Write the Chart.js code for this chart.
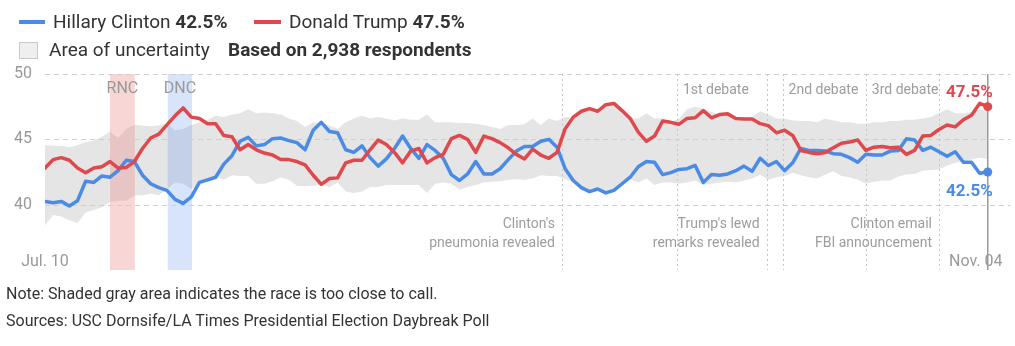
<!DOCTYPE html>
<html>
<head>
<meta charset="utf-8">
<script src="https://cdn.jsdelivr.net/npm/chart.js@4/dist/chart.umd.min.js"></script>
<style>
  html, body { margin: 0; padding: 0; background: #fff; }
  body { width: 1015px; height: 346px; position: relative; overflow: hidden;
         font-family: Roboto, "Noto Sans", sans-serif; color: #333; }
  #wrap { position: absolute; left: 0; top: 0; width: 1015px; height: 346px; }
  .key { position: absolute; font-size: 19px; line-height: 19px; white-space: nowrap; }
  .key b { font-weight: 700; }
  .swatch { position: absolute; height: 4px; }
  .box { position: absolute; width: 17px; height: 15px; background: #efefef; border: 1px solid #c9c9c9; }
  .note { position: absolute; left: 6px; font-size: 16px; line-height: 16px; white-space: nowrap; }
</style>
</head>
<body>
<div id="wrap"><canvas id="poll" width="1015" height="346"></canvas></div>

<div class="swatch" style="left:19px;top:20px;width:26px;background:#4a8be6"></div>
<div class="key" style="left:53px;top:12px">Hillary Clinton <b id="clintonLast"></b></div>
<div class="swatch" style="left:254px;top:20px;width:27px;background:#df484c"></div>
<div class="key" style="left:289px;top:12px">Donald Trump <b id="trumpLast"></b></div>
<div class="box" style="left:19px;top:42px"></div>
<div class="key" style="left:49px;top:40px">Area of uncertainty</div>
<div class="key" style="left:228px;top:40px"><b>Based on 2,938 respondents</b></div>

<div class="note" style="top:286px">Note: Shaded gray area indicates the race is too close to call.</div>
<div class="note" style="top:313px">Sources: USC Dornsife/LA Times Presidential Election Daybreak Poll</div>

<script>
// Daily tracking values, one per day starting Jul. 10
const clinton = [
  40.25,40.15,40.25,39.9,40.3,41.8,41.7,42.2,42.1,42.6,
  43.4,43.3,42.25,41.6,41.3,41.1,40.4,40.1,40.6,41.7,
  41.9,42.1,43.1,43.75,44.85,45.15,44.5,44.6,45.05,45.1,
  44.9,44.75,44.2,45.7,46.3,45.6,45.5,44.2,44.0,44.5,
  43.6,42.95,43.5,44.3,45.25,44.3,43.55,44.6,44.15,43.55,
  42.3,41.85,42.35,43.3,42.35,42.35,42.75,43.45,44.1,44.45,
  44.45,44.85,45.0,44.4,42.75,41.85,41.3,41.0,41.2,40.9,
  41.1,41.6,42.1,42.9,43.3,43.25,42.3,42.45,42.7,42.75,
  43.0,41.7,42.3,42.25,42.35,42.6,42.95,42.55,43.55,43.0,
  43.3,42.6,43.2,44.3,44.15,44.15,44.1,43.9,43.85,43.6,
  43.25,43.85,43.8,43.8,44.1,44.15,45.05,44.95,44.15,44.4,
  44.05,43.7,44.05,43.25,43.25,42.4,42.5
];
const trump = [
  42.8,43.45,43.6,43.4,42.8,42.45,42.8,42.9,43.3,42.8,
  42.85,43.3,44.3,45.1,45.4,46.1,46.8,47.4,46.7,46.6,
  46.2,46.2,45.3,45.2,44.2,44.6,44.2,43.95,43.8,43.45,
  43.45,43.3,43.05,42.25,41.55,42.0,42.05,43.2,43.4,43.4,
  44.2,44.95,44.6,44.0,43.2,44.1,44.3,43.2,43.6,43.85,
  45.05,45.3,45.0,44.0,45.25,45.05,44.75,44.35,43.85,43.5,
  44.25,43.8,43.55,44.0,45.8,46.7,47.15,47.35,47.15,47.65,
  47.75,47.2,46.6,45.55,44.85,45.25,46.4,46.3,46.15,46.6,
  46.65,47.2,46.65,46.9,46.95,46.6,46.55,46.55,46.2,46.05,
  45.5,45.7,45.3,44.15,44.0,43.9,44.0,44.35,44.7,44.8,
  44.95,44.15,44.4,44.45,44.35,44.4,43.85,44.15,45.25,45.3,
  45.75,46.1,45.95,46.5,46.85,47.75,47.5
];
// Upper and lower edges of the area of uncertainty
const bandHigh = [
  44.55,44.5,44.5,44.4,44.55,44.8,44.9,45.2,45.6,45.1,
  45.8,46.1,46.05,46.0,46.05,46.2,45.7,45.8,46.1,46.3,
  46.5,46.8,46.7,46.9,47.0,47.3,47.0,47.05,47.0,46.9,
  46.6,46.4,45.95,46.3,46.2,46.05,45.8,46.3,46.6,46.8,
  46.6,46.7,46.6,46.45,46.6,46.5,46.5,46.9,46.3,46.3,
  46.3,46.25,46.25,46.2,46.1,45.95,45.8,46.1,46.1,46.15,
  46.6,46.1,46.6,46.4,46.7,46.65,47.1,47.3,47.1,47.6,
  47.7,47.15,46.6,46.6,47.0,46.6,46.6,46.3,46.6,47.3,
  47.5,47.35,47.1,46.9,46.95,46.65,46.65,46.7,47.15,46.9,
  46.6,46.6,46.45,46.4,46.4,46.3,46.6,46.45,46.3,46.3,
  46.2,46.2,46.3,46.3,46.4,46.4,46.5,46.5,46.6,46.7,
  47.0,47.3,47.0,47.0,47.1,47.3,47.2
];
const bandLow = [
  38.4,39.2,39.1,38.8,38.6,39.4,39.6,39.8,40.2,40.3,
  40.3,40.7,40.7,40.85,40.7,41.2,41.7,41.6,41.2,41.5,
  42.0,42.2,41.9,42.25,42.2,42.2,41.6,41.6,41.8,42.1,
  41.9,41.45,41.4,41.45,41.5,41.35,41.7,41.0,40.9,41.0,
  41.35,41.35,41.5,41.5,41.5,41.5,41.5,40.9,41.6,41.7,
  41.6,41.15,41.35,41.5,41.7,41.75,41.8,41.9,41.95,41.9,
  42.0,42.25,42.2,42.2,41.95,41.7,41.3,41.0,41.2,40.9,
  41.1,41.4,41.95,41.7,42.0,41.5,41.7,41.7,41.6,41.7,
  41.85,41.5,41.6,41.7,41.75,41.7,41.85,42.0,42.3,41.9,
  42.1,42.2,42.45,42.25,42.1,42.0,42.3,42.55,42.2,42.1,
  41.9,41.6,41.75,41.85,41.85,42.15,42.3,42.35,42.6,42.65,
  42.7,43.0,43.2,43.35,43.45,43.6,43.5
];

const yTicks = [40, 45, 50];
const firstDayLabel = 'Jul. 10';
const lastDayLabel = 'Nov. 04';

// Party conventions (days since Jul. 10)
const conventionNames = ['RNC', 'DNC'];
const conventionStart = [8, 15.1];
const conventionEnd = [11.05, 18.1];

// Campaign events (days since Jul. 10)
const eventDays = [63.6, 77.75, 88.8, 90.75, 101, 110];
const eventLabels = [
  ["Clinton's", 'pneumonia revealed'],
  ['1st debate'],
  ["Trump's lewd", 'remarks revealed'],
  ['2nd debate'],
  ['3rd debate'],
  ['Clinton email', 'FBI announcement']
];

const BLUE = '#4a8be6';
const RED = '#df484c';
const FONT = 'Roboto, "Noto Sans", sans-serif';
const last = clinton.length - 1;
const pct = v => v.toFixed(1) + '%';

document.getElementById('clintonLast').textContent = pct(clinton[last]);
document.getElementById('trumpLast').textContent = pct(trump[last]);

const toXY = arr => arr.map((v, i) => ({ x: i, y: v }));

const overlay = {
  id: 'overlay',
  afterDatasetDraw(chart, args) {
    if (args.index !== 3) return;
    const { ctx, chartArea: a, scales: { x, y } } = chart;
    ctx.save();
    // convention bands
    conventionStart.forEach((s, i) => {
      const x0 = x.getPixelForValue(s), x1 = x.getPixelForValue(conventionEnd[i]);
      ctx.fillStyle = i === 0 ? 'rgba(236,140,140,0.36)' : 'rgba(100,150,230,0.26)';
      ctx.fillRect(x0, a.top, x1 - x0, a.bottom - a.top);
    });
    // horizontal guides
    ctx.strokeStyle = '#cfcfcf';
    ctx.lineWidth = 1;
    ctx.setLineDash([5, 4]);
    yTicks.forEach(t => {
      const py = Math.round(y.getPixelForValue(t)) + 0.5;
      ctx.beginPath(); ctx.moveTo(a.left, py); ctx.lineTo(a.right, py); ctx.stroke();
    });
    // event markers
    ctx.strokeStyle = '#c6c6c6';
    ctx.setLineDash([2, 3]);
    eventDays.forEach(d => {
      const px = Math.round(x.getPixelForValue(d)) + 0.5;
      ctx.beginPath(); ctx.moveTo(px, a.top); ctx.lineTo(px, a.bottom); ctx.stroke();
    });
    // latest day marker
    ctx.setLineDash([]);
    ctx.strokeStyle = '#9a9a9a';
    ctx.lineWidth = 1.5;
    const ex = x.getPixelForValue(last);
    ctx.beginPath(); ctx.moveTo(ex, a.top); ctx.lineTo(ex, a.bottom); ctx.stroke();
    ctx.restore();
  },
  afterDatasetsDraw(chart) {
    const { ctx, chartArea: a, scales: { x, y } } = chart;
    ctx.save();
    ctx.textBaseline = 'alphabetic';
    // convention names
    ctx.font = '16px ' + FONT;
    ctx.fillStyle = '#999';
    ctx.textAlign = 'center';
    conventionNames.forEach((n, i) => {
      const cx = (x.getPixelForValue(conventionStart[i]) + x.getPixelForValue(conventionEnd[i])) / 2;
      ctx.fillText(n, cx, a.top + 19);
    });
    // event labels
    ctx.font = '14px ' + FONT;
    ctx.fillStyle = '#9d9d9d';
    eventDays.forEach((d, i) => {
      const px = x.getPixelForValue(d);
      const lines = eventLabels[i];
      if (lines.length === 1) {
        ctx.textAlign = 'left';
        ctx.fillText(lines[0], px + 6, a.top + 20);
      } else {
        ctx.textAlign = 'right';
        ctx.fillText(lines[0], px - 7, a.bottom - 42);
        ctx.fillText(lines[1], px - 7, a.bottom - 23);
      }
    });
    // first and last day
    ctx.font = '16px ' + FONT;
    ctx.fillStyle = '#999';
    ctx.textAlign = 'center';
    ctx.fillText(firstDayLabel, x.getPixelForValue(0), a.bottom - 4);
    ctx.fillText(lastDayLabel, x.getPixelForValue(last) - 12, a.bottom - 4);
    // latest values
    const lx = x.getPixelForValue(last) + 5;
    ctx.font = 'bold 17px ' + FONT;
    ctx.textAlign = 'right';
    ctx.fillStyle = RED;
    ctx.fillText(pct(trump[last]), lx, y.getPixelForValue(trump[last]) - 10);
    ctx.fillStyle = BLUE;
    ctx.fillText(pct(clinton[last]), lx, y.getPixelForValue(clinton[last]) + 24);
    ctx.restore();
  }
};

const endDot = ctx => (ctx.dataIndex === last ? 4.5 : 0);

new Chart(document.getElementById('poll'), {
  type: 'line',
  data: {
    datasets: [
      { label: 'Donald Trump', data: toXY(trump), borderColor: RED, backgroundColor: RED,
        borderWidth: 3.5, pointRadius: endDot, pointBorderWidth: 0, pointHoverRadius: 0,
        tension: 0, borderJoinStyle: 'round', borderCapStyle: 'round', fill: false, order: 0 },
      { label: 'Hillary Clinton', data: toXY(clinton), borderColor: BLUE, backgroundColor: BLUE,
        borderWidth: 3.5, pointRadius: endDot, pointBorderWidth: 0, pointHoverRadius: 0,
        tension: 0, borderJoinStyle: 'round', borderCapStyle: 'round', fill: false, order: 1 },
      { label: 'upper', data: toXY(bandHigh), borderWidth: 0, pointRadius: 0,
        tension: 0, fill: false, order: 3 },
      { label: 'Area of uncertainty', data: toXY(bandLow), borderWidth: 0, pointRadius: 0,
        tension: 0, fill: '-1', backgroundColor: '#e5e5e5', order: 2 }
    ]
  },
  options: {
    responsive: false,
    animation: false,
    devicePixelRatio: 1,
    events: [],
    layout: { padding: { top: 74, bottom: 76, left: 0, right: 4 } },
    plugins: { legend: { display: false }, tooltip: { enabled: false } },
    scales: {
      x: { type: 'linear', min: 0, max: 118.8, display: false },
      y: {
        min: 35, max: 50,
        grid: { display: false },
        border: { display: false },
        afterBuildTicks: s => { s.ticks = yTicks.map(v => ({ value: v })); },
        afterFit: s => { s.width = 45; },
        ticks: { padding: 5, color: '#999', font: { family: FONT, size: 16 } }
      }
    }
  },
  plugins: [overlay]
});
</script>
</body>
</html>
